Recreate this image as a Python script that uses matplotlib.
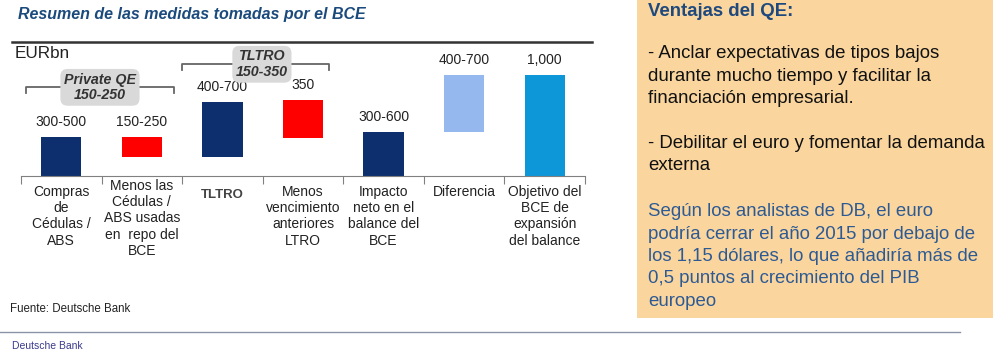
import matplotlib
matplotlib.use('Agg')
import matplotlib.pyplot as plt
from matplotlib.patches import Rectangle
from matplotlib.lines import Line2D
from matplotlib.transforms import blended_transform_factory, offset_copy

plt.rcParams['font.family'] = ['Liberation Sans', 'DejaVu Sans']

# data (EURbn), floating bars: bottom and top of each bar
categories = ['Compras\nde\nCédulas /\nABS',
              'Menos las\nCédulas /\nABS usadas\nen  repo del\nBCE',
              'TLTRO',
              'Menos\nvencimiento\nanteriores\nLTRO',
              'Impacto\nneto en el\nbalance del\nBCE',
              'Diferencia',
              'Objetivo del\nBCE de\nexpansión\ndel balance']
bar_bottom = [0, 190, 190, 375, 0, 435, 0]
bar_top = [385, 385, 730, 750, 435, 1000, 1000]
bar_labels = ['300-500', '150-250', '400-700', '350', '300-600', '400-700', '1,000']
bar_colors = ['#0D2F6E', '#FF0000', '#0D2F6E', '#FF0000', '#0D2F6E', '#95B8EE', '#0E97D8']

W, H = 996, 355


def fx(x):
    return x / W


def fy(y):
    return 1 - y / H


fig = plt.figure(figsize=(W / 100, H / 100), dpi=100)

# chart area
ax = fig.add_axes([fx(21), fy(176), (585 - 21) / W, (176 - 42) / H])
xs = list(range(len(categories)))
heights = [t - b for t, b in zip(bar_top, bar_bottom)]
ax.bar(xs, heights, bottom=bar_bottom, width=0.5, color=bar_colors)
for x, t, lab in zip(xs, bar_top, bar_labels):
    ax.annotate(lab, (x, t), xytext=(0, 11), textcoords='offset points',
                ha='center', va='center', fontsize=10, color='#222222')

ax.set_xlim(-0.5, len(categories) - 0.5)
ax.set_ylim(0, 1330)
for s in ['top', 'left', 'right']:
    ax.spines[s].set_visible(False)
ax.spines['bottom'].set_color('#808080')
ax.set_yticks([])
ax.set_xticks([x - 0.5 for x in xs] + [len(xs) - 0.5])
ax.set_xticklabels([])
ax.tick_params(axis='x', length=6, color='#808080', direction='out')

# category labels below the axis
trans = blended_transform_factory(ax.transData, ax.transAxes)
for x, cat in zip(xs, categories):
    nlines = cat.count('\n') + 1
    if cat == 'TLTRO':
        ax.text(x, 0, cat, ha='center', va='top', fontsize=9.5, fontweight='bold',
                color='#444444', transform=offset_copy(trans, fig=fig, y=-13, units='dots'))
    else:
        dy = -9 if nlines < 5 else -3
        ax.text(x, 0, cat, ha='center', va='top', fontsize=10, color='#222222',
                linespacing=1.2, transform=offset_copy(trans, fig=fig, y=dy, units='dots'))

# brackets with grey label boxes
brackets = [(-0.44, 1.40, 880, 'Private QE\n150-250', 0.48),
            (1.50, 3.32, 1109, 'TLTRO\n150-350', 2.49)]
for x0, x1, yb, txt, xc in brackets:
    ax.plot([x0, x0, x1, x1], [yb - 55, yb, yb, yb - 55], color='#666666', lw=1.3,
            clip_on=False)
    ax.text(xc, yb, txt, ha='center', va='center', fontsize=10.3, style='italic',
            fontweight='bold', color='#333333', linespacing=1.15, clip_on=False,
            bbox=dict(boxstyle='round,pad=0.25,rounding_size=0.5', fc='#D9D9D9', ec='none'))

# header, source and footer
fig.text(fx(18), fy(15), 'Resumen de las medidas tomadas por el BCE', fontsize=11.5,
         style='italic', fontweight='bold', color='#1B4A7C', va='center')
fig.add_artist(Line2D([fx(12), fx(592)], [fy(42), fy(42)], color='#333333', lw=1.8))
fig.text(fx(15), fy(54), 'EURbn', fontsize=12.3, color='#222222', va='center')
fig.text(fx(10), fy(309), 'Fuente: Deutsche Bank', fontsize=8.3, color='#222222', va='center')
fig.add_artist(Line2D([fx(0), fx(960)], [fy(332), fy(332)], color='#8A94A6', lw=1))
fig.text(fx(12), fy(346), 'Deutsche Bank', fontsize=7.5, color='#3B3A8C', va='center')

# side panel
fig.add_artist(Rectangle((fx(637), fy(318)), (993 - 637) / W, 318 / H,
                         transform=fig.transFigure, fc='#FAD69E', ec='none'))
fig.text(fx(648), fy(12), 'Ventajas del QE:', fontsize=13.4, fontweight='bold',
         color='#1F497D', va='center')
panel_black = ['- Anclar expectativas de tipos bajos',
               'durante mucho tiempo y facilitar la',
               'financiación empresarial.',
               '',
               '- Debilitar el euro y fomentar la demanda',
               'externa']
panel_blue = ['Según los analistas de DB, el euro',
              'podría cerrar el año 2015 por debajo de',
              'los 1,15 dólares, lo que añadiría más de',
              '0,5 puntos al crecimiento del PIB',
              'europeo']
y = 54
for line in panel_black:
    fig.text(fx(648), fy(y), line, fontsize=13.4, color='#111111', va='center')
    y += 22.3
y = 212
for line in panel_blue:
    fig.text(fx(648), fy(y), line, fontsize=13.4, color='#2E5A94', va='center')
    y += 22.3

fig.savefig('out.png', dpi=100)
